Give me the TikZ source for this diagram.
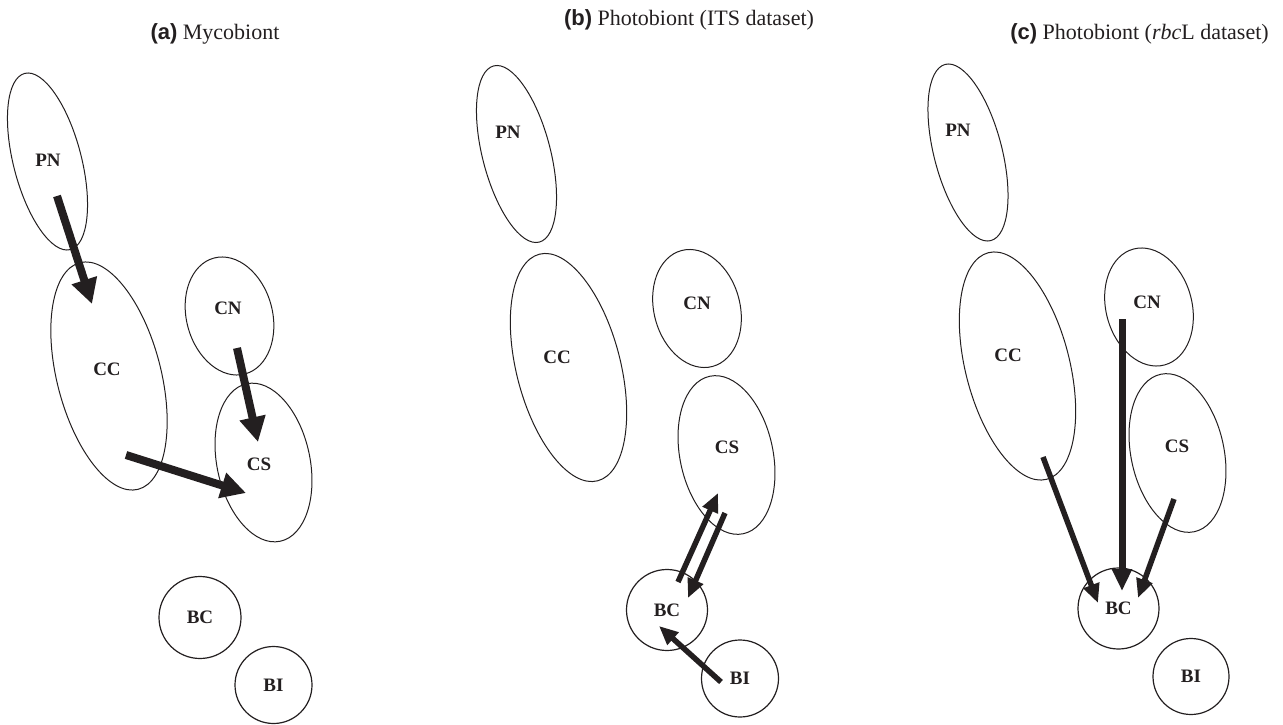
\documentclass[tikz,border=0pt]{standalone}
\usepackage{fontspec}
\setmainfont{Liberation Serif}
\newfontfamily\helv{Liberation Sans}
\usetikzlibrary{shapes.geometric,arrows.meta}
\definecolor{ink}{RGB}{35,31,32}
\begin{document}
\begin{tikzpicture}[x=1pt,y=-1pt,
  ell/.style={draw=ink,line width=1pt,ellipse,inner sep=0pt,outer sep=0pt},
  circ/.style={draw=ink,line width=1.2pt,circle,inner sep=0pt,outer sep=0pt,font=\fontsize{19}{22}\selectfont\bfseries,text=ink},
  lab/.style={inner sep=0pt,font=\fontsize{19}{22}\selectfont\bfseries,text=ink},
  ttl/.style={inner sep=0pt,anchor=base,font=\fontsize{22}{26}\selectfont,text=ink},
  pnsh/.style={ell,minimum width=68pt,minimum height=182pt,rotate=14.5},
  ccsh/.style={ell,minimum width=104pt,minimum height=234pt,rotate=14.4},
  cnsh/.style={ell,minimum width=86pt,minimum height=120pt,rotate=15},
  cssh/.style={ell,minimum width=93pt,minimum height=161pt,rotate=12},
  bigarr/.style={draw=ink,line width=8pt,-{Triangle[width=25pt,length=25pt]}},
  midarr/.style={draw=ink,line width=5.5pt,-{Triangle[width=16pt,length=19pt]}},
  cnarr/.style={draw=ink,line width=7pt,-{Triangle[width=19pt,length=22pt]}}]
\useasboundingbox (0,0) rectangle (1283,725);

% titles
\node[ttl] (ta) at (215,40) {{\helv\bfseries (a)} Mycobiont};
\node[ttl] (tb) at (689,26) {{\helv\bfseries (b)} Photobiont (ITS dataset)};
\node[ttl] (tc) at (1139.5,40) {{\helv\bfseries (c)} Photobiont (\textit{rbc}L dataset)};

% ---------- panel a ----------
\node[pnsh] (aPN) at (47.5,161.5) {};
\node[ccsh] (aCC) at (109,376) {};
\node[cnsh] (aCN) at (229.5,316) {};
\node[cssh] (aCS) at (263.5,462.5) {};
\node[circ,minimum size=82pt] (aBC) at (200,617.5) {BC};
\node[circ,minimum size=77pt] (aBI) at (273.5,685) {BI};
\node[lab] (aPNl) at (48,160) {PN};
\node[lab] (aCCl) at (107,369) {CC};
\node[lab] (aCNl) at (228,308) {CN};
\node[lab] (aCSl) at (259,464) {CS};
\coordinate (a1s) at (57,196);  \coordinate (a1e) at (92,304);
\coordinate (a2s) at (237,348); \coordinate (a2e) at (258,442);
\coordinate (a3s) at (126,455); \coordinate (a3e) at (246,493);
\draw[bigarr] (a1s) -- (a1e);
\draw[bigarr] (a2s) -- (a2e);
\draw[bigarr] (a3s) -- (a3e);

% ---------- panel b ----------
\node[pnsh] (bPN) at (516.5,154) {};
\node[ccsh] (bCC) at (568.5,367.5) {};
\node[cnsh] (bCN) at (697,308.5) {};
\node[cssh] (bCS) at (726.5,455) {};
\node[circ,minimum size=81pt] (bBC) at (667,610) {BC};
\node[circ,minimum size=77pt] (bBI) at (740,678.5) {BI};
\node[lab] (bPNl) at (508,132) {PN};
\node[lab] (bCCl) at (557,357) {CC};
\node[lab] (bCNl) at (697,303) {CN};
\node[lab] (bCSl) at (727,447) {CS};
\coordinate (b1s) at (678,582); \coordinate (b1e) at (718,493);
\coordinate (b2s) at (725,513); \coordinate (b2e) at (688,598);
\coordinate (b3s) at (721,682); \coordinate (b3e) at (659,626);
\draw[midarr] (b1s) -- (b1e);
\draw[midarr] (b2s) -- (b2e);
\draw[midarr] (b3s) -- (b3e);

% ---------- panel c ----------
\node[pnsh] (cPN) at (968,152.5) {};
\node[ccsh] (cCC) at (1017.5,366) {};
\node[cnsh] (cCN) at (1149,307) {};
\node[cssh] (cCS) at (1177.5,453) {};
\node[circ,minimum size=81pt] (cBC) at (1118.5,608.5) {BC};
\node[circ,minimum size=76pt] (cBI) at (1191,676.5) {BI};
\node[lab] (cPNl) at (958,130) {PN};
\node[lab] (cCCl) at (1008,355) {CC};
\node[lab] (cCNl) at (1147,302) {CN};
\node[lab] (cCSl) at (1177,446) {CS};
\coordinate (c1s) at (1043,457);  \coordinate (c1e) at (1098,603);
\coordinate (c2s) at (1122,319);  \coordinate (c2e) at (1122,591);
\coordinate (c3s) at (1174,499);  \coordinate (c3e) at (1138,598);
\draw[midarr] (c1s) -- (c1e);
\draw[cnarr] (c2s) -- (c2e);
\draw[midarr] (c3s) -- (c3e);
\end{tikzpicture}
\end{document}
